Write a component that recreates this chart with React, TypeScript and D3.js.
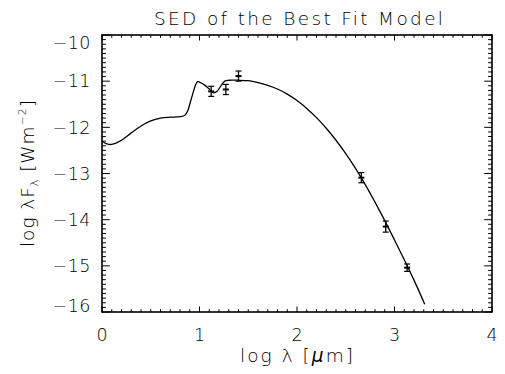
import React from "react";
import * as d3 from "d3";

const curveX = [0, 0.05, 0.1, 0.2, 0.3, 0.4, 0.5, 0.6, 0.7, 0.8, 0.85, 0.88, 0.9, 0.93, 0.96, 0.98, 1.0, 1.05, 1.1, 1.14, 1.18, 1.22, 1.26, 1.3, 1.4, 1.5, 1.6, 1.7, 1.8, 1.9, 2.0, 2.1, 2.2, 2.3, 2.4, 2.5, 2.6, 2.7, 2.8, 2.9, 3.0, 3.1, 3.2, 3.31];
const curveY = [-12.30, -12.36, -12.37, -12.28, -12.12, -11.97, -11.86, -11.80, -11.78, -11.77, -11.74, -11.64, -11.50, -11.28, -11.08, -11.01, -11.02, -11.08, -11.17, -11.25, -11.22, -11.10, -11.00, -10.98, -10.98, -10.99, -11.03, -11.09, -11.17, -11.28, -11.42, -11.59, -11.79, -12.02, -12.28, -12.57, -12.89, -13.24, -13.62, -14.02, -14.44, -14.87, -15.31, -15.83];

const obsX = [1.12, 1.27, 1.40, 2.66, 2.91, 3.13];
const obsY = [-11.22, -11.18, -10.89, -13.09, -14.15, -15.04];
const obsErr = [0.11, 0.11, 0.11, 0.11, 0.12, 0.08];

const xTicks = [0, 1, 2, 3, 4];
const yTicks = [-16, -15, -14, -13, -12, -11, -10];

const W = 505, H = 374;
const L = 102, R = 492, T = 35, B = 312;
const FONT = "'DejaVu Sans', sans-serif";
const FW = 300;

export default function App() {
  const x = d3.scaleLinear().domain([0, 4]).range([L, R]);
  const y = d3.scaleLinear().domain([-16, -10]).range([B, T]);
  const line = d3.line<number>().x((_, i) => x(curveX[i])).y((d) => y(d)).curve(d3.curveCatmullRom);
  const xMinor = d3.range(0, 40.001, 1).map((v) => v / 10);
  const yMinor = d3.range(-160, -99.999, 1).map((v) => v / 10);
  const xMajorLen = 5.5, xMinorLen = 2.8, yMajorLen = 7.8, yMinorLen = 3.9;
  const isMajor = (v: number) => Math.abs(v - Math.round(v)) < 1e-6;

  return (
    <svg width={W} height={H} style={{ position: "absolute", left: 0, top: 0, background: "#fff" }}>
      <rect x={0} y={0} width={W} height={H} fill="#fff" />
      <text x={154} y={25} textLength={289} lengthAdjust="spacing" fontFamily={FONT} fontSize={18.5} fontWeight={FW} fill="#000">
        SED of the Best Fit Model
      </text>
      {/* ticks */}
      <g stroke="#000" strokeWidth={1}>
        {xMinor.map((v, i) => {
          const len = isMajor(v) ? xMajorLen : xMinorLen;
          return (
            <g key={"xt" + i}>
              <line x1={x(v)} x2={x(v)} y1={B} y2={B - len} />
              <line x1={x(v)} x2={x(v)} y1={T} y2={T + len} />
            </g>
          );
        })}
        {yMinor.map((v, i) => {
          const len = isMajor(v) ? yMajorLen : yMinorLen;
          return (
            <g key={"yt" + i}>
              <line x1={L} x2={L + len} y1={y(v)} y2={y(v)} />
              <line x1={R} x2={R - len} y1={y(v)} y2={y(v)} />
            </g>
          );
        })}
      </g>
      <rect x={L} y={T} width={R - L} height={B - T} fill="none" stroke="#000" strokeWidth={1.6} />
      {/* tick labels */}
      {xTicks.map((v) => (
        <text key={"xl" + v} x={x(v)} y={341} textAnchor="middle" fontFamily={FONT} fontSize={17.5} fontWeight={FW} fill="#000">
          {String(v)}
        </text>
      ))}
      {yTicks.map((v) => {
        const cy = Math.min(Math.max(y(v), T + 7.5), B - 6);
        return (
          <text key={"yl" + v} x={91} y={cy} dy="0.36em" textAnchor="end" fontFamily={FONT} fontSize={17.5} fontWeight={FW} fill="#000" letterSpacing={0.5}>
            {"\u2212" + String(Math.abs(v))}
          </text>
        );
      })}
      {/* axis titles */}
      <text x={240} y={362} textLength={113} lengthAdjust="spacing" fontFamily={FONT} fontSize={18.5} fontWeight={FW} fill="#000">
        log λ [<tspan fontStyle="italic">μ</tspan>m]
      </text>
      <text transform="translate(34,247) rotate(-90)" textLength={147} lengthAdjust="spacing" fontFamily={FONT} fontSize={18.5} fontWeight={FW} fill="#000">
        log λF<tspan fontSize={11} dy={4}>λ</tspan>
        <tspan dy={-4}> [Wm</tspan>
        <tspan fontSize={11} dy={-8}>−2</tspan>
        <tspan dy={8}>]</tspan>
      </text>
      {/* model */}
      <path d={line(curveY) || ""} fill="none" stroke="#000" strokeWidth={1.3} />
      {/* observations */}
      <g stroke="#000">
        {obsX.map((v, i) => {
          const cx = x(v);
          const y0 = y(obsY[i] - obsErr[i]);
          const y1 = y(obsY[i] + obsErr[i]);
          return (
            <g key={"o" + i}>
              <line x1={cx} x2={cx} y1={y0} y2={y1} strokeWidth={1.3} />
              <line x1={cx - 3} x2={cx + 3} y1={y0} y2={y0} strokeWidth={1.2} />
              <line x1={cx - 3} x2={cx + 3} y1={y1} y2={y1} strokeWidth={1.2} />
              <line x1={cx - 3} x2={cx + 3} y1={y(obsY[i])} y2={y(obsY[i])} strokeWidth={2} />
            </g>
          );
        })}
      </g>
    </svg>
  );
}
